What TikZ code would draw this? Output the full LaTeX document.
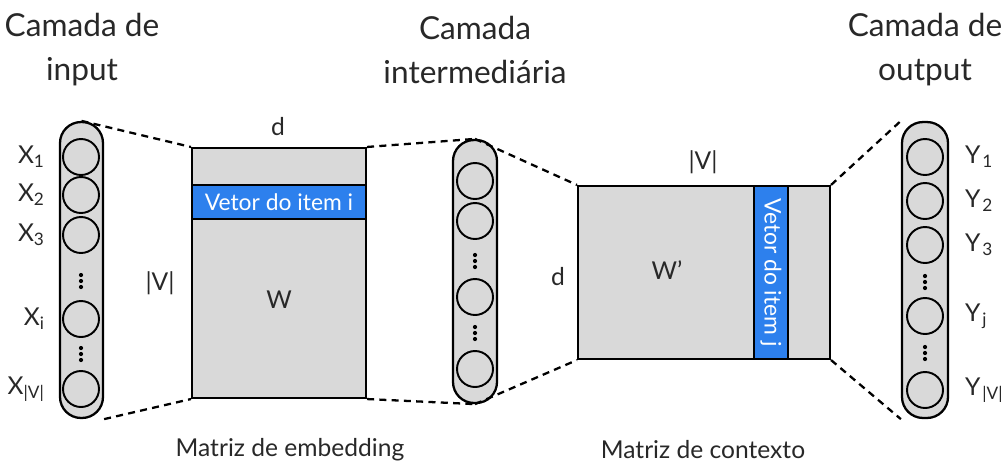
\documentclass[tikz,border=0pt]{standalone}
\usepackage{fontspec}
\setmainfont{Lato}
\usetikzlibrary{positioning}
\definecolor{cellgray}{RGB}{217,217,217}
\definecolor{itemblue}{RGB}{45,128,237}
\definecolor{labelgray}{RGB}{40,40,40}

\begin{document}
\begin{tikzpicture}[x=0.02cm, y=-0.02cm,
    pill/.style={draw, fill=cellgray, line width=1.3pt, rounded corners=0.42cm, inner sep=0pt},
    unit/.style={circle, draw, line width=1.1pt, minimum size=0.72cm, inner sep=0pt},
    matbox/.style={draw, fill=cellgray, line width=1.2pt, inner sep=0pt},
    vecbox/.style={draw, fill=itemblue, line width=1.2pt, inner sep=0pt, text=white, font=\fontsize{13}{15}\selectfont},
    lbl/.style={text=labelgray, font=\fontsize{14}{16}\selectfont},
    head/.style={text=labelgray, font=\fontsize{18}{25}\selectfont, align=center},
    link/.style={dash pattern=on 4pt off 3pt, line width=1.3pt}]
    \useasboundingbox (0,0) rectangle (1003,467);

    \node[head] (hin) at (82,50) {Camada de\\input};
    \node[head] (hmid) at (475,50) {Camada\\intermediária};
    \node[head] (hout) at (925,50) {Camada de\\output};

    \node[pill, minimum width=0.86cm, minimum height=5.92cm] (inL) at (81.5,270) {};
    \node[pill, minimum width=0.88cm, minimum height=5.26cm] (hidL) at (475,271.5) {};
    \node[pill, minimum width=0.92cm, minimum height=5.92cm] (outL) at (925,270) {};

    \foreach \n/\y in {1/157,2/195,3/235,i/319,v/389}
        \node[unit] (x\n) at (81,\y) {};
    \foreach \n/\y in {1/181,2/221,3/297,4/369}
        \node[unit] (h\n) at (475,\y) {};
    \foreach \n/\y in {1/157,2/201,3/245,j/316,v/390}
        \node[unit] (y\n) at (925,\y) {};
    \foreach \x/\y in {81/281,81/354,475/261,475/333,925/282,925/353}
        \foreach \d in {-6,0,6}
            \fill (\x,\y+\d) circle[radius=1.2pt];

    \node[lbl, left=0.22cm of x1] {X\textsubscript{1}};
    \node[lbl, left=0.22cm of x2] {X\textsubscript{2}};
    \node[lbl, left=0.22cm of x3] {X\textsubscript{3}};
    \node[lbl, left=0.22cm of xi] {X\textsubscript{i}};
    \node[lbl, left=0.22cm of xv] {X\textsubscript{|V|}};
    \node[lbl, right=0.3cm of y1] {Y\hspace{1pt}\textsubscript{1}};
    \node[lbl, right=0.3cm of y2] {Y\hspace{1pt}\textsubscript{2}};
    \node[lbl, right=0.3cm of y3] {Y\hspace{1pt}\textsubscript{3}};
    \node[lbl, right=0.3cm of yj] {Y\hspace{1pt}\textsubscript{j}};
    \node[lbl, right=0.3cm of yv] {Y\hspace{1pt}\textsubscript{|V|}};

    \node[matbox, minimum width=3.48cm, minimum height=5cm] (W) at (279,273) {};
    \node[vecbox, minimum width=3.48cm, minimum height=0.68cm] (vi) at (279,202) {Vetor do item i};
    \node[lbl] (wname) at (279,300) {W};
    \node[lbl] (wcols) at (278,127) {d};
    \node[lbl] (wrows) at (160,283) {|V|};

    \node[matbox, minimum width=5.04cm, minimum height=3.46cm] (Wc) at (704,272.5) {};
    \node[vecbox, rotate=-90, minimum width=3.46cm, minimum height=0.68cm] (vj) at (771,272.5) {Vetor do item j};
    \node[lbl] (wcname) at (667,270) {W’};
    \node[lbl] (wccols) at (703,162) {|V|};
    \node[lbl] (wcrows) at (558,277) {d};

    \draw[link] (inL.north) -- (W.north west);
    \draw[link] (inL.south east) -- (W.south west);
    \draw[link] (W.north east) -- (hidL.north);
    \draw[link] (W.south east) -- (hidL.south);
    \draw[link] (hidL.north) -- (Wc.north west);
    \draw[link] (hidL.south) -- (Wc.south west);
    \draw[link] (Wc.north east) -- (outL.north west);
    \draw[link] (Wc.south east) -- (outL.south west);

    \node[lbl] (emb) at (290,450) {Matriz de embedding};
    \node[lbl] (ctx) at (703,450) {Matriz de contexto};
\end{tikzpicture}
\end{document}
